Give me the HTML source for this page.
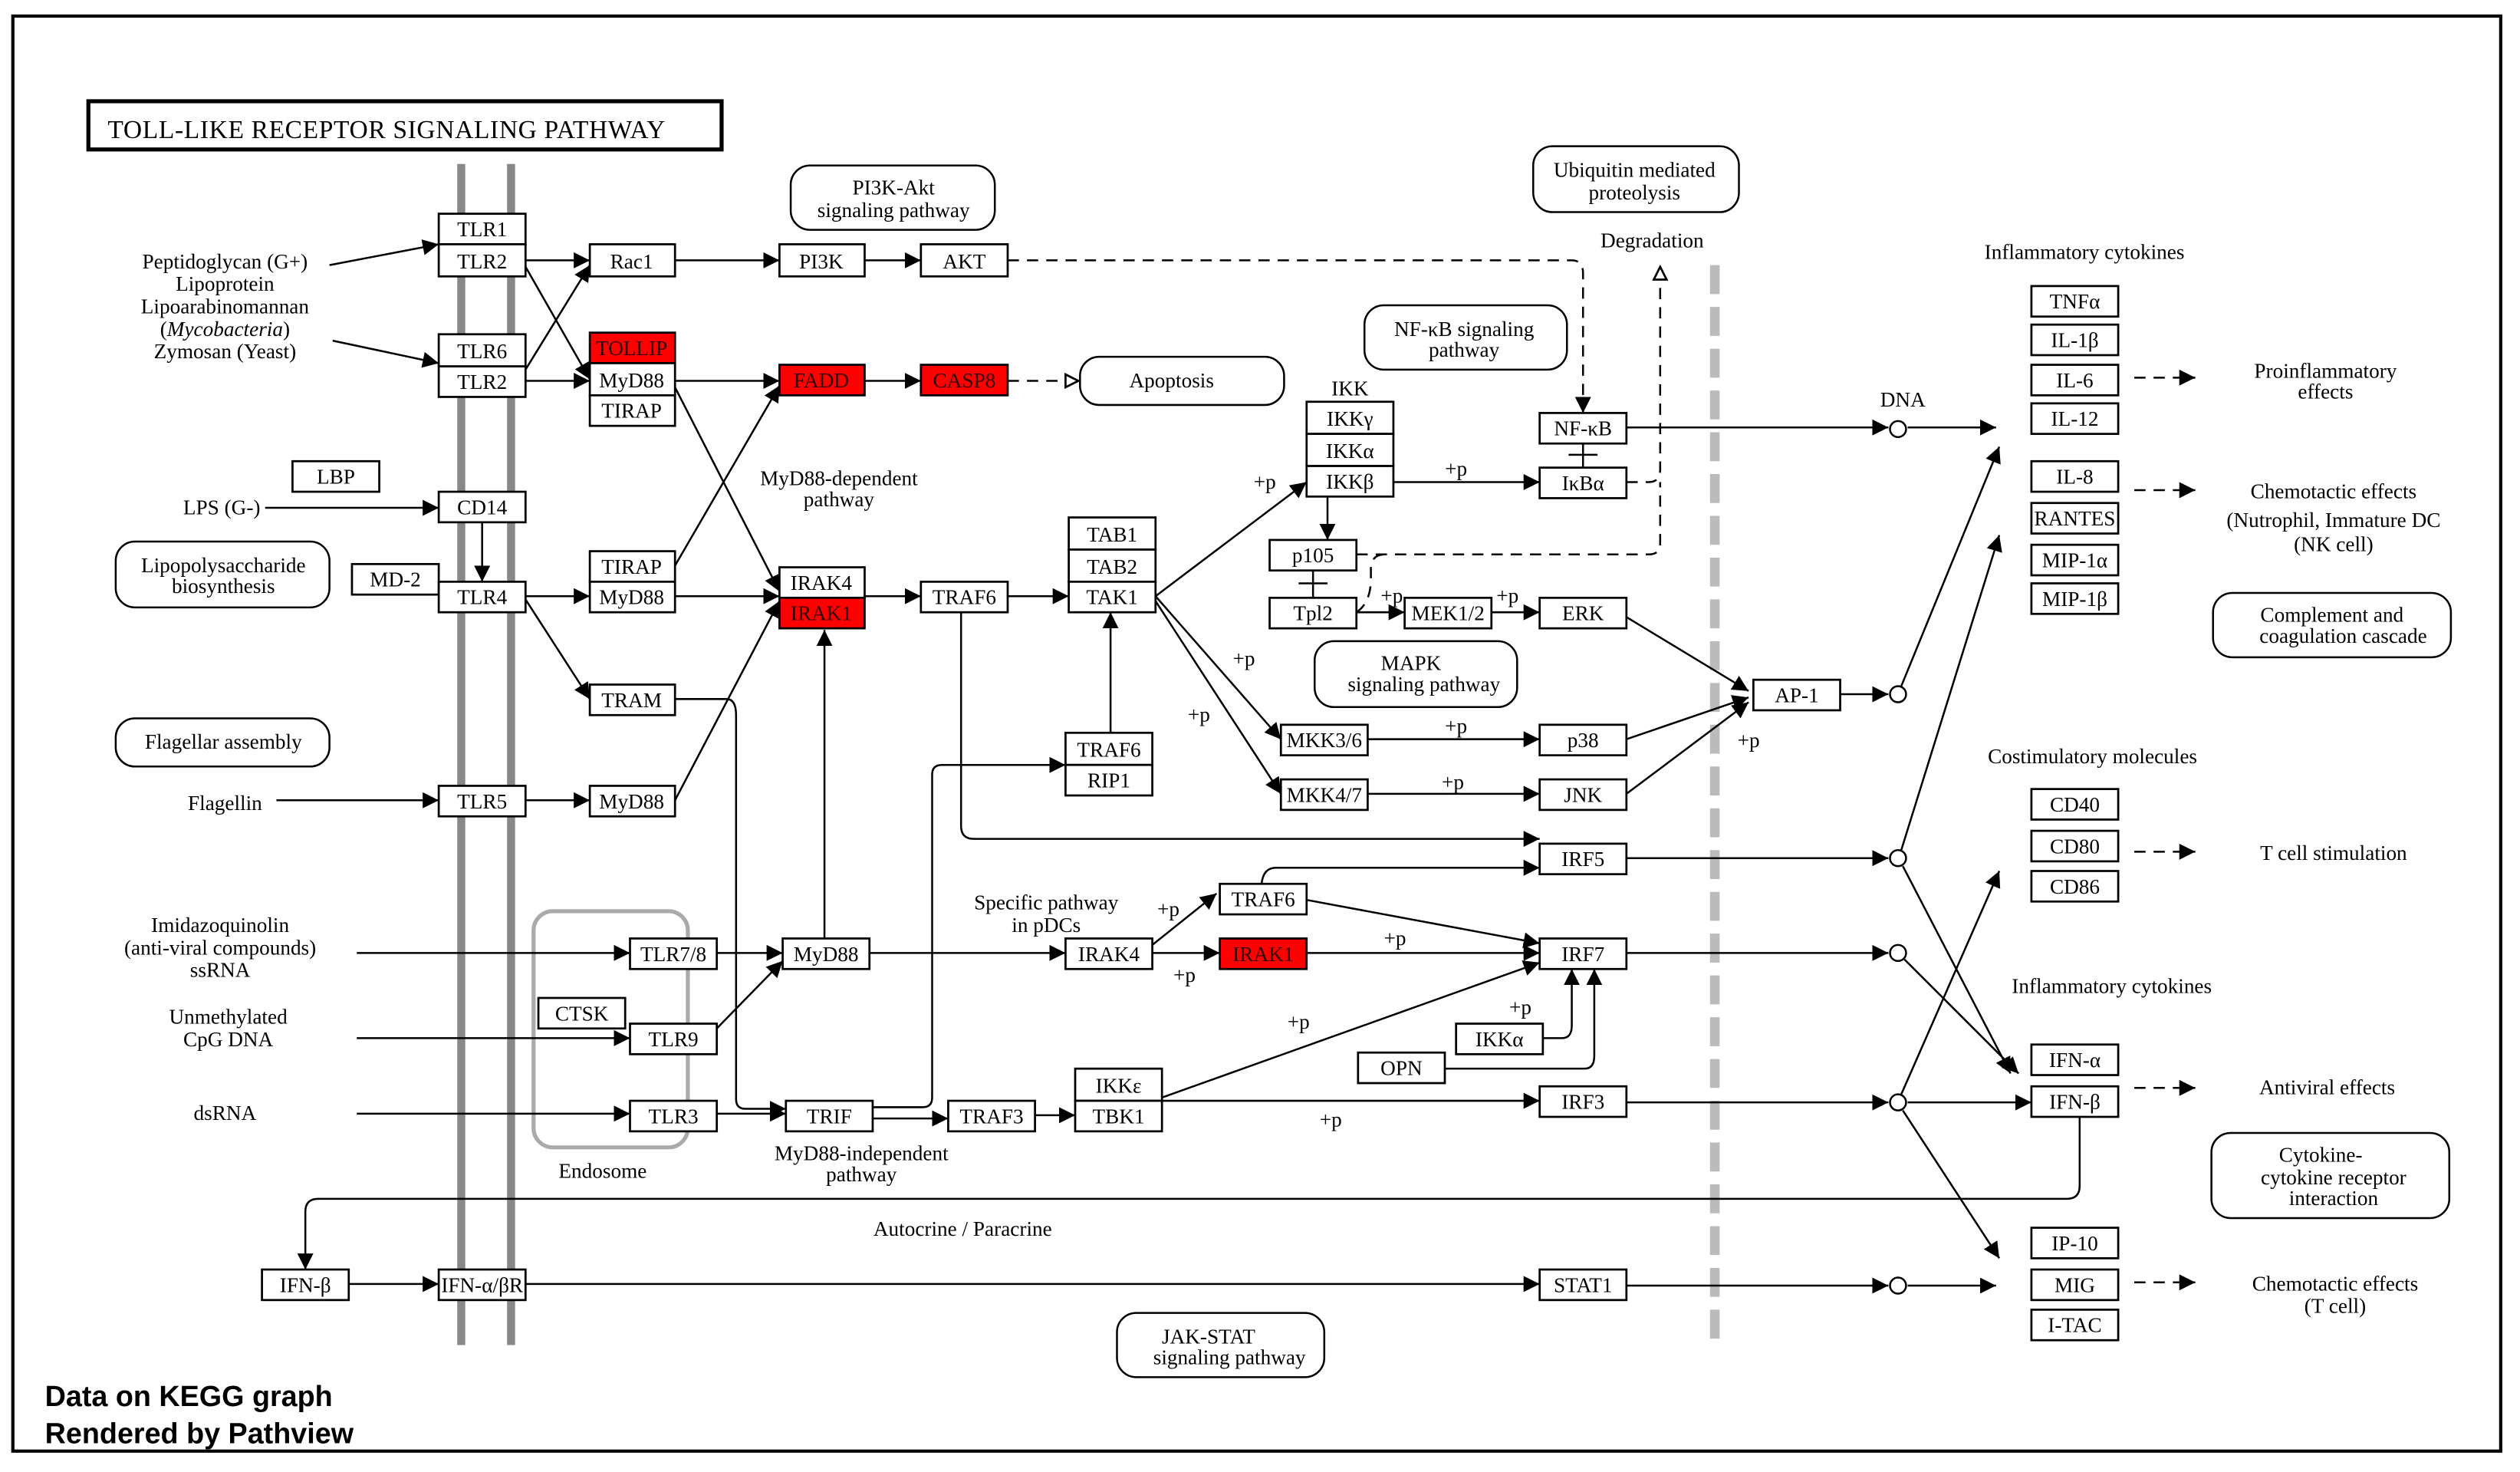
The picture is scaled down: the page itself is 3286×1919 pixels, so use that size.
<!DOCTYPE html>
<html><head><meta charset="utf-8"><style>
html,body{margin:0;padding:0;background:#fff}
svg{display:block}
text{font-family:"Liberation Serif",serif;font-size:13px;fill:#000}
.b rect{fill:#fff;stroke:#000;stroke-width:1.3}
.l{stroke:#000;stroke-width:1.2;fill:none}
.d{stroke:#000;stroke-width:1.2;fill:none;stroke-dasharray:7,5}
.rr{fill:#fff;stroke:#000;stroke-width:1.2}
</style></head><body>
<svg width="3286" height="1919" viewBox="0 0 1568 916" preserveAspectRatio="none" xmlns="http://www.w3.org/2000/svg">
<defs>
<marker id="a" viewBox="0 0 10 10" refX="10" refY="5" markerWidth="10" markerHeight="10" markerUnits="userSpaceOnUse" orient="auto"><path d="M0,0L10,5L0,10z" fill="#000"/></marker>
<marker id="o" viewBox="0 0 10 10" refX="10" refY="5" markerWidth="10" markerHeight="10" markerUnits="userSpaceOnUse" orient="auto"><path d="M1,1L9,5L1,9z" fill="#fff" stroke="#000" stroke-width="1.3"/></marker>
</defs>
<rect x="8" y="10" width="1548" height="893" fill="none" stroke="#000" stroke-width="2"/>
<rect x="55" y="63" width="394" height="30" fill="#fff" stroke="#000" stroke-width="2.5"/>
<text x="67" y="86" style="font-size:16px;letter-spacing:0.3px">TOLL-LIKE RECEPTOR SIGNALING PATHWAY</text>
<line x1="287" y1="102" x2="287" y2="837" stroke="#888" stroke-width="5"/>
<line x1="318" y1="102" x2="318" y2="837" stroke="#888" stroke-width="5"/>
<line x1="1067" y1="165" x2="1067" y2="838" stroke="#bbb" stroke-width="6" stroke-dasharray="18,8"/>
<rect x="332" y="567" width="96" height="147" rx="12" fill="none" stroke="#aaa" stroke-width="2.5"/>
<g>
<rect class="rr" x="492" y="103" width="127" height="40" rx="12"/><text x="556" y="121" text-anchor="middle">PI3K-Akt</text><text x="556" y="135" text-anchor="middle">signaling pathway</text>
<rect class="rr" x="672" y="222" width="127" height="30" rx="12"/><text x="729" y="241" text-anchor="middle">Apoptosis</text>
<rect class="rr" x="72" y="337" width="133" height="41" rx="12"/><text x="139" y="356" text-anchor="middle">Lipopolysaccharide</text><text x="139" y="369" text-anchor="middle">biosynthesis</text>
<rect class="rr" x="72" y="447" width="133" height="30" rx="12"/><text x="139" y="466" text-anchor="middle">Flagellar assembly</text>
<rect class="rr" x="849" y="190" width="126" height="40" rx="12"/><text x="911" y="209" text-anchor="middle">NF-κB signaling</text><text x="911" y="222" text-anchor="middle">pathway</text>
<rect class="rr" x="954" y="91" width="128" height="41" rx="12"/><text x="1017" y="110" text-anchor="middle">Ubiquitin mediated</text><text x="1017" y="124" text-anchor="middle">proteolysis</text>
<rect class="rr" x="818" y="399" width="126" height="41" rx="12"/><text x="878" y="417" text-anchor="middle">MAPK</text><text x="886" y="430" text-anchor="middle">signaling pathway</text>
<rect class="rr" x="1377" y="369" width="148" height="40" rx="12"/><text x="1451" y="387" text-anchor="middle">Complement and</text><text x="1458" y="400" text-anchor="middle">coagulation cascade</text>
<rect class="rr" x="1376" y="705" width="148" height="53" rx="12"/><text x="1444" y="723" text-anchor="middle">Cytokine-</text><text x="1452" y="737" text-anchor="middle">cytokine receptor</text><text x="1452" y="750" text-anchor="middle">interaction</text>
<rect class="rr" x="695" y="817" width="129" height="40" rx="12"/><text x="752" y="836" text-anchor="middle">JAK-STAT</text><text x="765" y="849" text-anchor="middle">signaling pathway</text>
</g>
<g class="l">
<line x1="205" y1="165" x2="273" y2="152" marker-end="url(#a)"/>
<line x1="207" y1="212" x2="273" y2="226" marker-end="url(#a)"/>
<line x1="327" y1="162" x2="367" y2="162" marker-end="url(#a)"/>
<line x1="327" y1="166" x2="367" y2="236" marker-end="url(#a)"/>
<line x1="327" y1="230" x2="367" y2="165" marker-end="url(#a)"/>
<line x1="327" y1="237" x2="367" y2="237" marker-end="url(#a)"/>
<line x1="420" y1="162" x2="485" y2="162" marker-end="url(#a)"/>
<line x1="538" y1="162" x2="573" y2="162" marker-end="url(#a)"/>
<line x1="420" y1="237" x2="485" y2="237" marker-end="url(#a)"/>
<line x1="538" y1="237" x2="573" y2="237" marker-end="url(#a)"/>
<line x1="420" y1="241" x2="485" y2="368" marker-end="url(#a)"/>
<line x1="165" y1="316" x2="273" y2="316" marker-end="url(#a)"/>
<line x1="300" y1="325" x2="300" y2="362" marker-end="url(#a)"/>
<line x1="327" y1="371" x2="367" y2="371" marker-end="url(#a)"/>
<line x1="327" y1="373" x2="367" y2="435" marker-end="url(#a)"/>
<line x1="420" y1="352" x2="485" y2="240" marker-end="url(#a)"/>
<line x1="420" y1="371" x2="485" y2="371" marker-end="url(#a)"/>
<path d="M420,435H452Q458,435 458,445V684Q458,690 464,690H489" marker-end="url(#a)"/>
<line x1="420" y1="498" x2="485" y2="374" marker-end="url(#a)"/>
<line x1="172" y1="498" x2="273" y2="498" marker-end="url(#a)"/>
<line x1="327" y1="498" x2="367" y2="498" marker-end="url(#a)"/>
<line x1="513" y1="584" x2="513" y2="392" marker-end="url(#a)"/>
<line x1="538" y1="371" x2="573" y2="371" marker-end="url(#a)"/>
<line x1="627" y1="371" x2="665" y2="371" marker-end="url(#a)"/>
<path d="M598,381V514Q598,522 606,522H958" marker-end="url(#a)"/>
<line x1="691" y1="456" x2="691" y2="381" marker-end="url(#a)"/>
<path d="M543,689H574Q580,689 580,683V482Q580,476 586,476H663" marker-end="url(#a)"/>
<path d="M543,696H590" marker-end="url(#a)"/>
<line x1="719" y1="371" x2="813" y2="300" marker-end="url(#a)"/>
<line x1="719" y1="371" x2="797" y2="460" marker-end="url(#a)"/>
<line x1="719" y1="374" x2="797" y2="494" marker-end="url(#a)"/>
<line x1="867" y1="300" x2="958" y2="300" marker-end="url(#a)"/>
<line x1="826" y1="309" x2="826" y2="336" marker-end="url(#a)"/>
<line x1="1012" y1="266" x2="1175" y2="266" marker-end="url(#a)"/>
<line x1="1187" y1="266" x2="1242" y2="266" marker-end="url(#a)"/>
<line x1="985" y1="276" x2="985" y2="291"/><line x1="976" y1="283" x2="994" y2="283"/>
<line x1="817" y1="355" x2="817" y2="372"/><line x1="808" y1="363" x2="826" y2="363"/>
<line x1="844" y1="381" x2="874" y2="381" marker-end="url(#a)"/>
<line x1="928" y1="381" x2="958" y2="381" marker-end="url(#a)"/>
<line x1="1012" y1="384" x2="1088" y2="430" marker-end="url(#a)"/>
<line x1="851" y1="460" x2="958" y2="460" marker-end="url(#a)"/>
<line x1="851" y1="494" x2="958" y2="494" marker-end="url(#a)"/>
<line x1="1012" y1="460" x2="1088" y2="434" marker-end="url(#a)"/>
<line x1="1012" y1="494" x2="1088" y2="437" marker-end="url(#a)"/>
<line x1="1145" y1="432" x2="1175" y2="432" marker-end="url(#a)"/>
<line x1="1183" y1="427" x2="1244" y2="278" marker-end="url(#a)"/>
<line x1="1183" y1="529" x2="1244" y2="333" marker-end="url(#a)"/>
<line x1="1183" y1="681" x2="1244" y2="542" marker-end="url(#a)"/>
<line x1="1184" y1="539" x2="1251" y2="668" marker-end="url(#a)"/>
<line x1="1185" y1="597" x2="1256" y2="668" marker-end="url(#a)"/>
<line x1="1187" y1="686" x2="1264" y2="686" marker-end="url(#a)"/>
<line x1="1184" y1="691" x2="1244" y2="783" marker-end="url(#a)"/>
<line x1="1012" y1="534" x2="1175" y2="534" marker-end="url(#a)"/>
<line x1="1012" y1="593" x2="1175" y2="593" marker-end="url(#a)"/>
<line x1="1012" y1="686" x2="1175" y2="686" marker-end="url(#a)"/>
<line x1="1012" y1="800" x2="1175" y2="800" marker-end="url(#a)"/>
<line x1="1187" y1="800" x2="1242" y2="800" marker-end="url(#a)"/>
<line x1="222" y1="593" x2="392" y2="593" marker-end="url(#a)"/>
<line x1="222" y1="646" x2="392" y2="646" marker-end="url(#a)"/>
<line x1="222" y1="693" x2="392" y2="693" marker-end="url(#a)"/>
<line x1="446" y1="593" x2="487" y2="593" marker-end="url(#a)"/>
<line x1="446" y1="640" x2="487" y2="598" marker-end="url(#a)"/>
<line x1="446" y1="693" x2="489" y2="693" marker-end="url(#a)"/>
<line x1="541" y1="593" x2="663" y2="593" marker-end="url(#a)"/>
<line x1="717" y1="593" x2="759" y2="593" marker-end="url(#a)"/>
<line x1="717" y1="588" x2="757" y2="556" marker-end="url(#a)"/>
<line x1="813" y1="593" x2="958" y2="593" marker-end="url(#a)"/>
<line x1="813" y1="560" x2="958" y2="587" marker-end="url(#a)"/>
<path d="M785,550Q786,540 794,540H958" marker-end="url(#a)"/>
<path d="M960,646H972Q978,646 978,638V603" marker-end="url(#a)"/>
<path d="M899,665H986Q992,665 992,657V603" marker-end="url(#a)"/>
<line x1="644" y1="694" x2="669" y2="694" marker-end="url(#a)"/>
<line x1="723" y1="685" x2="958" y2="685" marker-end="url(#a)"/>
<line x1="723" y1="683" x2="958" y2="599" marker-end="url(#a)"/>
<path d="M1294,695V738Q1294,746 1286,746H198Q190,746 190,754V790" marker-end="url(#a)"/>
<line x1="217" y1="799" x2="273" y2="799" marker-end="url(#a)"/>
<line x1="327" y1="799" x2="958" y2="799" marker-end="url(#a)"/>
</g>
<g class="d">
<path d="M627,162H978Q985,162 985,170V257" marker-end="url(#a)"/>
<line x1="627" y1="237" x2="672" y2="237" marker-end="url(#o)"/>
<path d="M1012,300H1026Q1033,300 1033,292V165" marker-end="url(#o)"/>
<path d="M844,345H1026Q1033,345 1033,338V300"/>
<path d="M844,381Q853,375 853,360V354Q853,345 862,345"/>
<line x1="1328" y1="235" x2="1366" y2="235" marker-end="url(#a)"/>
<line x1="1328" y1="305" x2="1366" y2="305" marker-end="url(#a)"/>
<line x1="1328" y1="530" x2="1366" y2="530" marker-end="url(#a)"/>
<line x1="1328" y1="677" x2="1366" y2="677" marker-end="url(#a)"/>
<line x1="1328" y1="798" x2="1366" y2="798" marker-end="url(#a)"/>
</g>
<g fill="#fff" stroke="#000" stroke-width="1.2">
<circle cx="1181" cy="267" r="5"/><circle cx="1181" cy="432" r="5"/><circle cx="1181" cy="534" r="5"/><circle cx="1181" cy="593" r="5"/><circle cx="1181" cy="686" r="5"/><circle cx="1181" cy="800" r="5"/>
</g>
<g class="b">
<rect x="273" y="133" width="54" height="19"/><text x="300" y="147" text-anchor="middle">TLR1</text>
<rect x="273" y="152" width="54" height="20"/><text x="300" y="167" text-anchor="middle">TLR2</text>
<rect x="273" y="208" width="54" height="20"/><text x="300" y="223" text-anchor="middle">TLR6</text>
<rect x="273" y="228" width="54" height="19"/><text x="300" y="242" text-anchor="middle">TLR2</text>
<rect x="367" y="152" width="53" height="20"/><text x="393" y="167" text-anchor="middle">Rac1</text>
<rect x="367" y="207" width="53" height="19" style="fill:#f00"/><text x="393" y="221" text-anchor="middle" style="fill:#300">TOLLIP</text>
<rect x="367" y="226" width="53" height="20"/><text x="393" y="241" text-anchor="middle">MyD88</text>
<rect x="367" y="246" width="53" height="19"/><text x="393" y="260" text-anchor="middle">TIRAP</text>
<rect x="485" y="152" width="53" height="20"/><text x="511" y="167" text-anchor="middle">PI3K</text>
<rect x="573" y="152" width="54" height="20"/><text x="600" y="167" text-anchor="middle">AKT</text>
<rect x="485" y="227" width="53" height="19" style="fill:#f00"/><text x="511" y="241" text-anchor="middle" style="fill:#300">FADD</text>
<rect x="573" y="227" width="54" height="19" style="fill:#f00"/><text x="600" y="241" text-anchor="middle" style="fill:#300">CASP8</text>
<rect x="182" y="287" width="54" height="19"/><text x="209" y="301" text-anchor="middle">LBP</text>
<rect x="273" y="306" width="54" height="19"/><text x="300" y="320" text-anchor="middle">CD14</text>
<rect x="219" y="351" width="54" height="19"/><text x="246" y="365" text-anchor="middle">MD-2</text>
<rect x="273" y="362" width="54" height="19"/><text x="300" y="376" text-anchor="middle">TLR4</text>
<rect x="367" y="343" width="53" height="19"/><text x="393" y="357" text-anchor="middle">TIRAP</text>
<rect x="367" y="362" width="53" height="19"/><text x="393" y="376" text-anchor="middle">MyD88</text>
<rect x="485" y="353" width="53" height="19"/><text x="511" y="367" text-anchor="middle">IRAK4</text>
<rect x="485" y="372" width="53" height="19" style="fill:#f00"/><text x="511" y="386" text-anchor="middle" style="fill:#300">IRAK1</text>
<rect x="573" y="362" width="54" height="19"/><text x="600" y="376" text-anchor="middle">TRAF6</text>
<rect x="665" y="322" width="54" height="20"/><text x="692" y="337" text-anchor="middle">TAB1</text>
<rect x="665" y="342" width="54" height="20"/><text x="692" y="357" text-anchor="middle">TAB2</text>
<rect x="665" y="362" width="54" height="19"/><text x="692" y="376" text-anchor="middle">TAK1</text>
<rect x="367" y="426" width="53" height="19"/><text x="393" y="440" text-anchor="middle">TRAM</text>
<rect x="273" y="489" width="54" height="19"/><text x="300" y="503" text-anchor="middle">TLR5</text>
<rect x="367" y="489" width="53" height="19"/><text x="393" y="503" text-anchor="middle">MyD88</text>
<rect x="663" y="456" width="54" height="20"/><text x="690" y="471" text-anchor="middle">TRAF6</text>
<rect x="663" y="476" width="54" height="19"/><text x="690" y="490" text-anchor="middle">RIP1</text>
<rect x="813" y="250" width="54" height="20"/><text x="840" y="265" text-anchor="middle">IKKγ</text>
<rect x="813" y="270" width="54" height="20"/><text x="840" y="285" text-anchor="middle">IKKα</text>
<rect x="813" y="290" width="54" height="19"/><text x="840" y="304" text-anchor="middle">IKKβ</text>
<rect x="958" y="257" width="54" height="19"/><text x="985" y="271" text-anchor="middle">NF-κB</text>
<rect x="958" y="291" width="54" height="19"/><text x="985" y="305" text-anchor="middle">IκBα</text>
<rect x="790" y="336" width="54" height="19"/><text x="817" y="350" text-anchor="middle">p105</text>
<rect x="790" y="372" width="54" height="19"/><text x="817" y="386" text-anchor="middle">Tpl2</text>
<rect x="874" y="372" width="54" height="19"/><text x="901" y="386" text-anchor="middle">MEK1/2</text>
<rect x="958" y="372" width="54" height="19"/><text x="985" y="386" text-anchor="middle">ERK</text>
<rect x="797" y="451" width="54" height="19"/><text x="824" y="465" text-anchor="middle">MKK3/6</text>
<rect x="958" y="451" width="54" height="19"/><text x="985" y="465" text-anchor="middle">p38</text>
<rect x="797" y="485" width="54" height="19"/><text x="824" y="499" text-anchor="middle">MKK4/7</text>
<rect x="958" y="485" width="54" height="19"/><text x="985" y="499" text-anchor="middle">JNK</text>
<rect x="1091" y="423" width="54" height="19"/><text x="1118" y="437" text-anchor="middle">AP-1</text>
<rect x="958" y="525" width="54" height="19"/><text x="985" y="539" text-anchor="middle">IRF5</text>
<rect x="759" y="550" width="54" height="19"/><text x="786" y="564" text-anchor="middle">TRAF6</text>
<rect x="663" y="584" width="54" height="19"/><text x="690" y="598" text-anchor="middle">IRAK4</text>
<rect x="759" y="584" width="54" height="19" style="fill:#f00"/><text x="786" y="598" text-anchor="middle" style="fill:#300">IRAK1</text>
<rect x="958" y="584" width="54" height="19"/><text x="985" y="598" text-anchor="middle">IRF7</text>
<rect x="487" y="584" width="54" height="19"/><text x="514" y="598" text-anchor="middle">MyD88</text>
<rect x="392" y="584" width="54" height="19"/><text x="419" y="598" text-anchor="middle">TLR7/8</text>
<rect x="392" y="637" width="54" height="19"/><text x="419" y="651" text-anchor="middle">TLR9</text>
<rect x="335" y="621" width="54" height="19"/><text x="362" y="635" text-anchor="middle">CTSK</text>
<rect x="392" y="685" width="54" height="19"/><text x="419" y="699" text-anchor="middle">TLR3</text>
<rect x="489" y="685" width="54" height="19"/><text x="516" y="699" text-anchor="middle">TRIF</text>
<rect x="590" y="685" width="54" height="19"/><text x="617" y="699" text-anchor="middle">TRAF3</text>
<rect x="669" y="665" width="54" height="20"/><text x="696" y="680" text-anchor="middle">IKKε</text>
<rect x="669" y="685" width="54" height="19"/><text x="696" y="699" text-anchor="middle">TBK1</text>
<rect x="958" y="676" width="54" height="19"/><text x="985" y="690" text-anchor="middle">IRF3</text>
<rect x="906" y="637" width="54" height="19"/><text x="933" y="651" text-anchor="middle">IKKα</text>
<rect x="845" y="655" width="54" height="19"/><text x="872" y="669" text-anchor="middle">OPN</text>
<rect x="163" y="790" width="54" height="19"/><text x="190" y="804" text-anchor="middle">IFN-β</text>
<rect x="273" y="790" width="54" height="19"/><text x="300" y="804" text-anchor="middle">IFN-α/βR</text>
<rect x="958" y="790" width="54" height="19"/><text x="985" y="804" text-anchor="middle">STAT1</text>
<rect x="1264" y="178" width="54" height="19"/><text x="1291" y="192" text-anchor="middle">TNFα</text>
<rect x="1264" y="202" width="54" height="19"/><text x="1291" y="216" text-anchor="middle">IL-1β</text>
<rect x="1264" y="227" width="54" height="19"/><text x="1291" y="241" text-anchor="middle">IL-6</text>
<rect x="1264" y="251" width="54" height="19"/><text x="1291" y="265" text-anchor="middle">IL-12</text>
<rect x="1264" y="287" width="54" height="19"/><text x="1291" y="301" text-anchor="middle">IL-8</text>
<rect x="1264" y="313" width="54" height="19"/><text x="1291" y="327" text-anchor="middle">RANTES</text>
<rect x="1264" y="339" width="54" height="19"/><text x="1291" y="353" text-anchor="middle">MIP-1α</text>
<rect x="1264" y="363" width="54" height="19"/><text x="1291" y="377" text-anchor="middle">MIP-1β</text>
<rect x="1264" y="491" width="54" height="19"/><text x="1291" y="505" text-anchor="middle">CD40</text>
<rect x="1264" y="517" width="54" height="19"/><text x="1291" y="531" text-anchor="middle">CD80</text>
<rect x="1264" y="542" width="54" height="19"/><text x="1291" y="556" text-anchor="middle">CD86</text>
<rect x="1264" y="650" width="54" height="19"/><text x="1291" y="664" text-anchor="middle">IFN-α</text>
<rect x="1264" y="676" width="54" height="19"/><text x="1291" y="690" text-anchor="middle">IFN-β</text>
<rect x="1264" y="764" width="54" height="19"/><text x="1291" y="778" text-anchor="middle">IP-10</text>
<rect x="1264" y="790" width="54" height="19"/><text x="1291" y="804" text-anchor="middle">MIG</text>
<rect x="1264" y="815" width="54" height="19"/><text x="1291" y="829" text-anchor="middle">I-TAC</text>
</g>
<g text-anchor="middle">
<text x="140" y="167">Peptidoglycan (G+)</text><text x="140" y="181">Lipoprotein</text><text x="140" y="195">Lipoarabinomannan</text><text x="140" y="209">(<tspan font-style="italic">Mycobacteria</tspan>)</text><text x="140" y="223">Zymosan (Yeast)</text>
<text x="138" y="320">LPS (G-)</text>
<text x="140" y="504">Flagellin</text>
<text x="137" y="580">Imidazoquinolin</text><text x="137" y="594">(anti-viral compounds)</text><text x="137" y="608">ssRNA</text>
<text x="142" y="637">Unmethylated</text><text x="142" y="651">CpG DNA</text>
<text x="140" y="697">dsRNA</text>
<text x="522" y="302">MyD88-dependent</text><text x="522" y="315">pathway</text>
<text x="651" y="566">Specific pathway</text><text x="651" y="580">in pDCs</text>
<text x="536" y="722">MyD88-independent</text><text x="536" y="735">pathway</text>
<text x="375" y="733">Endosome</text>
<text x="599" y="769">Autocrine / Paracrine</text>
<text x="840" y="246">IKK</text>
<text x="1028" y="154">Degradation</text>
<text x="1184" y="253">DNA</text>
<text x="1297" y="161">Inflammatory cytokines</text>
<text x="1302" y="475">Costimulatory molecules</text>
<text x="1314" y="618">Inflammatory cytokines</text>
<text x="1447" y="235">Proinflammatory</text><text x="1447" y="248">effects</text>
<text x="1452" y="310">Chemotactic effects</text><text x="1452" y="328">(Nutrophil, Immature DC</text><text x="1452" y="343">(NK cell)</text>
<text x="1452" y="535">T cell stimulation</text>
<text x="1448" y="681">Antiviral effects</text>
<text x="1453" y="803">Chemotactic effects</text><text x="1453" y="817">(T cell)</text>
<text x="787" y="304">+p</text><text x="906" y="296">+p</text><text x="866" y="375">+p</text><text x="938" y="375">+p</text>
<text x="774" y="414">+p</text><text x="746" y="449">+p</text><text x="906" y="456">+p</text><text x="904" y="491">+p</text><text x="1088" y="465">+p</text>
<text x="727" y="570">+p</text><text x="737" y="611">+p</text><text x="868" y="588">+p</text><text x="808" y="640">+p</text><text x="946" y="631">+p</text><text x="828" y="701">+p</text>
</g>
<text x="28" y="875" style="font-family:'Liberation Sans',sans-serif;font-weight:bold;font-size:18px">Data on KEGG graph</text>
<text x="28" y="898" style="font-family:'Liberation Sans',sans-serif;font-weight:bold;font-size:18px">Rendered by Pathview</text>
</svg>
</body></html>
